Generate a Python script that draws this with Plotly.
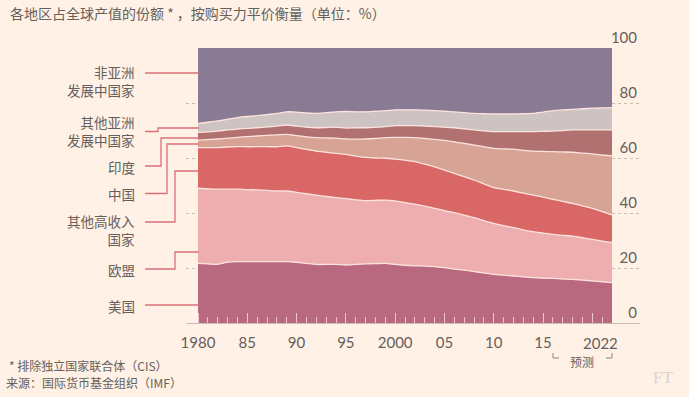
import plotly.graph_objects as go

# ---------------- data (share of world output, PPP, %) ----------------
YEARS = list(range(1980, 2023))

US = [21.7, 21.5, 21.3, 22.1, 22.3, 22.3, 22.3, 22.3, 22.3, 22.3,
      22.1, 21.7, 21.3, 21.3, 21.3, 21.1, 21.3, 21.5, 21.6, 21.7,
      21.3, 21.0, 20.8, 20.7, 20.5, 20.1, 19.6, 19.2, 18.7, 18.2,
      17.7, 17.4, 17.1, 16.8, 16.5, 16.3, 16.2, 16.0, 15.9, 15.6,
      15.3, 15.0, 14.7]
EU = [27.3, 27.3, 27.4, 26.6, 26.4, 26.2, 26.1, 25.9, 25.7, 25.7,
      25.4, 25.3, 25.2, 24.7, 24.3, 24.1, 23.5, 23.0, 23.0, 23.0,
      23.1, 22.8, 22.4, 21.8, 21.2, 20.8, 20.5, 20.0, 19.6, 19.0,
      18.5, 18.0, 17.6, 17.1, 16.7, 16.4, 16.0, 15.9, 15.7, 15.4,
      15.1, 14.8, 14.6]
OTHER_HIGH_INCOME = [14.8, 15.0, 15.1, 15.3, 15.4, 15.6, 15.7, 15.9, 16.1, 16.4,
                     16.3, 16.1, 16.0, 16.1, 16.1, 16.1, 15.9, 15.7, 15.4, 15.2,
                     15.2, 15.4, 15.5, 15.3, 15.1, 14.7, 14.3, 14.0, 13.7, 13.4,
                     13.0, 13.2, 13.3, 13.3, 13.3, 13.1, 12.8, 12.3, 11.9, 11.6,
                     11.3, 10.7, 10.0]
CHINA = [2.7, 2.9, 3.1, 3.2, 3.4, 3.7, 3.9, 4.1, 4.3, 4.2,
         4.3, 4.6, 4.9, 5.2, 5.5, 5.6, 6.2, 6.7, 7.1, 7.5,
         7.9, 8.3, 8.7, 9.3, 10.0, 10.8, 11.5, 12.1, 12.7, 13.5,
         14.3, 14.7, 15.2, 15.6, 16.0, 16.6, 17.3, 18.0, 18.6, 19.2,
         19.8, 20.6, 21.5]
INDIA = [2.8, 2.8, 2.9, 3.0, 3.0, 3.0, 3.0, 3.1, 3.2, 3.4,
         3.5, 3.5, 3.6, 3.8, 4.0, 4.0, 4.1, 4.1, 4.1, 4.0,
         4.3, 4.3, 4.4, 4.5, 4.6, 4.8, 5.1, 5.3, 5.5, 5.8,
         6.1, 6.3, 6.4, 6.8, 7.1, 7.3, 7.5, 7.8, 8.1, 8.4,
         8.7, 9.1, 9.4]
OTHER_ASIA = [3.3, 3.5, 3.7, 3.9, 4.2, 4.3, 4.4, 4.5, 4.6, 4.8,
              5.1, 5.2, 5.2, 5.4, 5.6, 6.0, 5.8, 5.8, 5.8, 5.8,
              5.7, 5.7, 5.7, 5.8, 5.8, 5.8, 5.8, 5.9, 6.0, 6.2,
              6.4, 6.4, 6.4, 6.5, 6.6, 7.0, 7.4, 7.5, 7.5, 7.7,
              7.9, 8.0, 8.1]
NON_ASIA = [27.4, 27.0, 26.5, 25.9, 25.3, 24.9, 24.6, 24.2, 23.8, 23.2,
            23.3, 23.6, 23.8, 23.5, 23.2, 23.1, 23.2, 23.2, 23.0, 22.8,
            22.5, 22.5, 22.5, 22.6, 22.8, 23.0, 23.2, 23.5, 23.8, 23.9,
            24.0, 24.0, 24.0, 23.9, 23.8, 23.3, 22.8, 22.5, 22.3, 22.1,
            21.9, 21.8, 21.7]

SERIES_NAMES = ["美国", "欧盟", "其他高收入国家", "中国", "印度",
                "其他亚洲发展中国家", "非亚洲发展中国家"]
SERIES_VALUES = [US, EU, OTHER_HIGH_INCOME, CHINA, INDIA, OTHER_ASIA, NON_ASIA]
SERIES_COLORS = ["#b9697f", "#eeadae", "#d96766", "#d6a395", "#b07170",
                 "#cdc3c3", "#8a7b95"]

X_TICKS = [1980, 1985, 1990, 1995, 2000, 2005, 2010, 2015, 2020]
X_TICKTEXT = ["1980", "85", "90", "95", "2000", "05", "10", "15", ""]
Y_TICKS = [0, 20, 40, 60, 80, 100]

# ---------------- layout geometry (pixels) ----------------
W, H = 689, 397
L, R, T, B = 186, 640, 48, 323
X0_PX, X1_PX = 198, 612          # where 1980 and 2022 sit
PPY = (X1_PX - X0_PX) / (YEARS[-1] - YEARS[0])
XRANGE = [YEARS[0] - (X0_PX - L) / PPY, YEARS[-1] + (R - X1_PX) / PPY]


def px(x):
    return (x - L) / (R - L)


def py(y):
    return (B - y) / (B - T)


BG = "#fff1e5"
TEXT = "#66605c"
FONT = "Lato, Noto Sans CJK SC, sans-serif"
CJK = "Noto Sans CJK SC, sans-serif"
LINK = "#d9707a"

fig = go.Figure()
for i, (name, vals, col) in enumerate(zip(SERIES_NAMES, SERIES_VALUES, SERIES_COLORS)):
    last = i == len(SERIES_NAMES) - 1
    fig.add_trace(go.Scatter(
        x=YEARS, y=vals, name=name, stackgroup="one", mode="lines",
        line=dict(color="#fce3dd", width=0 if last else 1.3, shape="spline", smoothing=0.7),
        fillcolor=col, hoverinfo="skip", showlegend=False,
    ))

minor_vals = [y for y in YEARS if y not in X_TICKS and y < YEARS[-1]]

fig.update_xaxes(
    range=XRANGE, tickmode="array", tickvals=X_TICKS, ticktext=X_TICKTEXT,
    ticks="inside", ticklen=10, tickcolor="#f3c6c8", tickwidth=1,
    minor=dict(tickmode="array", tickvals=minor_vals, ticks="inside",
               ticklen=6, tickcolor="#f3c6c8", tickwidth=1),
    showline=True, linecolor="#c9bdb2", linewidth=1,
    showgrid=False, zeroline=False,
    tickfont=dict(family=FONT, size=15, color=TEXT),
    ticklabelstandoff=6,
)
fig.update_yaxes(
    range=[0, 100], side="right", tickmode="array", tickvals=Y_TICKS,
    ticks="", ticklabelposition="inside top", ticklabeloverflow="allow",
    showgrid=True, gridcolor="#c9bdb2", griddash="dot", gridwidth=1,
    zeroline=False, showline=False,
    tickfont=dict(family=FONT, size=15, color=TEXT),
)

annotations = []
shapes = []

# subtitle
annotations.append(dict(
    text="各地区占全球产值的份额 * ，按购买力平价衡量（单位：%）",
    xref="paper", yref="paper", x=px(8), y=py(13.5), xanchor="left", yanchor="middle",
    showarrow=False, font=dict(family=CJK, size=14, color=TEXT)))

# footnotes
annotations.append(dict(
    text="* 排除独立国家联合体（CIS）", xref="paper", yref="paper",
    x=px(7), y=py(365), xanchor="left", yanchor="middle", showarrow=False,
    font=dict(family=CJK, size=12, color=TEXT)))
annotations.append(dict(
    text="来源：国际货币基金组织（IMF）", xref="paper", yref="paper",
    x=px(4), y=py(382), xanchor="left", yanchor="middle", showarrow=False,
    font=dict(family=CJK, size=12, color=TEXT)))

# FT mark
annotations.append(dict(
    text="FT", xref="paper", yref="paper", x=px(663), y=py(377),
    xanchor="center", yanchor="middle", showarrow=False,
    font=dict(family="Liberation Serif, serif", size=17, color="#ddd3ca")))

# 2022 label
annotations.append(dict(
    text="2022", xref="x", yref="paper", x=YEARS[-1], y=py(342.5),
    xanchor="right", yanchor="middle", xshift=8, showarrow=False,
    font=dict(family=FONT, size=15, color=TEXT)))

# forecast bracket
annotations.append(dict(
    text="预测", xref="paper", yref="paper", x=px(581.5), y=py(361),
    xanchor="center", yanchor="middle", showarrow=False,
    font=dict(family=CJK, size=12, color=TEXT)))
for path in (f"M {px(553)},{py(353)} L {px(553)},{py(358)} L {px(559)},{py(358)}",
             f"M {px(606)},{py(358)} L {px(612)},{py(358)} L {px(612)},{py(353)}"):
    shapes.append(dict(type="path", path=path, xref="paper", yref="paper",
                       line=dict(color="#8d8580", width=1)))

# left-side labels (right-aligned) and connectors
labels = [
    ("非亚洲<br>发展中国家", 81),
    ("其他亚洲<br>发展中国家", 131),
    ("印度", 167),
    ("中国", 194),
    ("其他高收入<br>国家", 230),
    ("欧盟", 270),
    ("美国", 306),
]
for txt, yy in labels:
    annotations.append(dict(
        text=txt, xref="paper", yref="paper", x=px(137), y=py(yy),
        xanchor="right", yanchor="middle", align="right", showarrow=False,
        font=dict(family=CJK, size=13.5, color=TEXT)))

connectors = [
    [(145, 73), (199, 73)],
    [(145, 131.5), (158, 131.5), (158, 128), (199, 128)],
    [(145, 166), (161, 166), (161, 138), (199, 138)],
    [(145, 193.5), (167, 193.5), (167, 144), (199, 144)],
    [(145, 222), (175, 222), (175, 171), (199, 171)],
    [(145, 269), (175, 269), (175, 252), (199, 252)],
    [(145, 305), (199, 305)],
]
for pts in connectors:
    path = "M " + " L ".join(f"{px(a)},{py(b)}" for a, b in pts)
    shapes.append(dict(type="path", path=path, xref="paper", yref="paper",
                       line=dict(color=LINK, width=1.3), layer="above"))

fig.update_layout(
    width=W, height=H,
    margin=dict(l=L, r=W - R, t=T, b=H - B, pad=0),
    paper_bgcolor=BG, plot_bgcolor=BG,
    annotations=annotations, shapes=shapes,
    showlegend=False,
)

fig.write_html("out.html",
               config={"displayModeBar": False},
               post_script="document.body.style.margin='0';"
                           "document.body.style.background='#fff1e5';")
